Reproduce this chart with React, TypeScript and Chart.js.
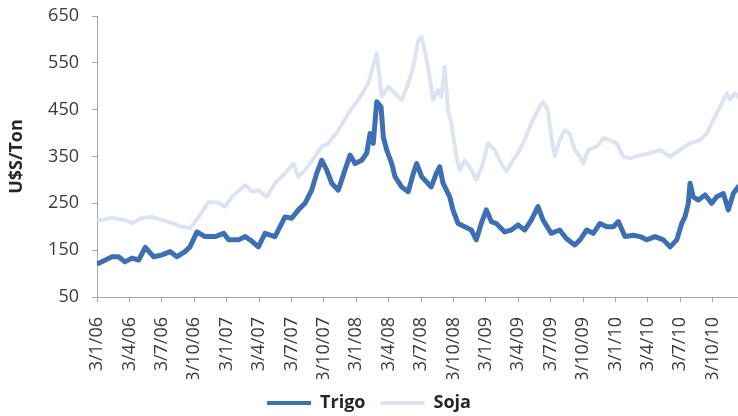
import React, { useEffect, useRef } from 'react';
import { Chart, registerables } from 'chart.js';

Chart.register(...registerables);

// x values are months elapsed since 3/1/06 (day/month/year)
const tickMonths = [0, 3, 6, 9, 12, 15, 18, 21, 24, 27, 30, 33, 36, 39, 42, 45, 48, 51, 54, 57];
const tickLabels = [
  '3/1/06', '3/4/06', '3/7/06', '3/10/06',
  '3/1/07', '3/4/07', '3/7/07', '3/10/07',
  '3/1/08', '3/4/08', '3/7/08', '3/10/08',
  '3/1/09', '3/4/09', '3/7/09', '3/10/09',
  '3/1/10', '3/4/10', '3/7/10', '3/10/10',
];

const yTicks = [50, 150, 250, 350, 450, 550, 650];

const trigoMonths = [
  0.16, 1.39, 2.0, 2.59, 3.24, 3.86, 4.47, 5.25, 6.02, 6.76, 7.41, 8.15, 8.61, 9.26, 10.0,
  10.93, 11.73, 12.19, 13.12, 13.73, 14.35, 14.94, 15.56, 16.48, 17.41, 18.03, 18.64, 19.26,
  19.88, 20.34, 20.81, 21.27, 21.73, 22.34, 22.96, 23.43, 23.89, 24.51, 24.97, 25.28, 25.58,
  25.9, 26.3, 26.51, 26.82, 27.29, 27.59, 28.21, 28.82, 29.29, 29.6, 30.06, 30.95, 31.42,
  31.73, 32.04, 32.66, 32.96, 33.43, 34.05, 34.66, 35.12, 35.58, 36.05, 36.51, 36.97, 37.75,
  38.36, 38.98, 39.6, 40.21, 40.83, 41.3, 42.06, 42.84, 43.45, 44.23, 44.72, 45.34, 45.95,
  46.57, 47.19, 47.81, 48.27, 48.89, 49.66, 50.28, 50.9, 51.67, 52.44, 53.06, 53.68, 54.14,
  54.44, 54.75, 54.91, 55.21, 55.68, 56.3, 56.92, 57.38, 57.99, 58.45, 58.92, 59.35,
];
const trigoValues = [
  122, 136, 136, 125, 133, 129, 156, 136, 140, 147, 136, 147, 157, 189, 179,
  179, 186, 172, 172, 179, 169, 157, 186, 179, 221, 218, 236, 250,
  278, 314, 342, 321, 293, 278, 321, 353, 335, 342, 357, 399, 378,
  467, 456, 392, 364, 335, 307, 285, 275, 314, 335, 307, 285, 314,
  328, 293, 264, 236, 207, 200, 193, 172, 207, 236, 211, 207, 189,
  193, 204, 193, 214, 243, 214, 186, 193, 175, 161, 172, 193, 186,
  207, 200, 200, 211, 179, 182, 179, 172, 179, 172, 157, 172, 207,
  221, 250, 293, 264, 257, 268, 250, 264, 271, 236, 271, 285,
];

const sojaMonths = [
  0.16, 1.39, 2.59, 3.24, 4.17, 5.09, 6.02, 6.94, 7.87, 8.61, 9.42, 10.34, 11.27, 11.85,
  12.5, 13.73, 14.35, 14.97, 15.71, 16.48, 17.41, 18.18, 18.64, 19.26, 20.19, 20.81, 21.42,
  22.34, 23.27, 24.19, 25.12, 25.9, 26.36, 26.97, 27.59, 28.21, 28.82, 29.29, 29.75, 30.06,
  30.19, 30.65, 31.11, 31.57, 31.88, 32.19, 32.5, 32.81, 33.27, 33.58, 34.05, 34.66, 35.12,
  35.74, 36.2, 36.82, 37.44, 37.9, 38.52, 39.14, 39.6, 40.21, 40.83, 41.3, 41.76, 42.06,
  42.38, 42.84, 43.31, 43.77, 44.23, 44.72, 45.03, 45.49, 46.27, 46.88, 47.5, 48.12, 48.73,
  49.35, 50.28, 51.2, 52.13, 53.06, 53.98, 54.91, 55.83, 56.45, 57.07, 57.68, 58.31, 58.61,
  59.07, 59.35,
];
const sojaValues = [
  214, 219, 214, 208, 219, 221, 214, 208, 200, 197, 221, 253, 251, 243,
  264, 289, 275, 278, 264, 293, 314, 335, 307, 321, 350, 371, 378,
  406, 442, 471, 506, 570, 478, 499, 485, 471, 506, 542, 599, 606,
  592, 542, 471, 492, 478, 542, 449, 421, 350, 321, 342, 321, 300,
  335, 378, 364, 335, 318, 342, 364, 385, 421, 449, 467, 449, 392,
  350, 385, 406, 399, 364, 350, 335, 364, 371, 389, 385, 378, 350,
  346, 353, 357, 364, 350, 364, 378, 385, 399, 428, 456, 485, 471,
  485, 478,
];

const FONT = "'Open Sans', 'DejaVu Sans', sans-serif";
const AXIS_COLOR = '#a6a6a6';
const TRIGO_COLOR = '#3d70b2';
const SOJA_COLOR = '#dce5ef';

export default function App() {
  const canvasRef = useRef<HTMLCanvasElement | null>(null);

  useEffect(() => {
    if (!canvasRef.current) return;
    const chart = new Chart(canvasRef.current, {
      type: 'line',
      data: {
        datasets: [
          {
            label: 'Trigo',
            data: trigoMonths.map((m, i) => ({ x: m, y: trigoValues[i] })),
            borderColor: TRIGO_COLOR,
            backgroundColor: TRIGO_COLOR,
            borderWidth: 5,
            pointRadius: 0,
            tension: 0,
            borderJoinStyle: 'round',
            borderCapStyle: 'round',
          },
          {
            label: 'Soja',
            data: sojaMonths.map((m, i) => ({ x: m, y: sojaValues[i] })),
            borderColor: SOJA_COLOR,
            backgroundColor: SOJA_COLOR,
            borderWidth: 4,
            pointRadius: 0,
            tension: 0,
            borderJoinStyle: 'round',
            borderCapStyle: 'round',
          },
        ],
      },
      options: {
        animation: false,
        responsive: true,
        maintainAspectRatio: false,
        layout: { padding: { top: 16, right: 0, left: 0, bottom: -6 } },
        plugins: {
          tooltip: { enabled: false },
          legend: {
            position: 'bottom',
            labels: {
              boxWidth: 44,
              boxHeight: 4,
              padding: 15,
              color: '#262626',
              font: { family: FONT, size: 18, weight: 'bold' },
              generateLabels: (c: any) =>
                Chart.defaults.plugins.legend.labels
                  .generateLabels(c)
                  .map((l: any) => ({ ...l, lineWidth: 0 })),
            },
          },
        },
        scales: {
          x: {
            type: 'linear',
            min: 0,
            max: 59.35,
            afterBuildTicks: (scale: any) => {
              scale.ticks = tickMonths.map((v) => ({ value: v }));
            },
            afterFit: (scale: any) => {
              scale.height = 82;
              scale.paddingLeft = 0;
              scale.paddingRight = 0;
            },
            ticks: {
              autoSkip: false,
              minRotation: 90,
              maxRotation: 90,
              padding: 15,
              color: '#3a3a3a',
              font: { family: FONT, size: 18 },
              callback: (_v: any, i: number) => tickLabels[i],
            },
            grid: {
              display: true,
              drawOnChartArea: false,
              drawTicks: true,
              tickLength: 5,
              color: AXIS_COLOR,
            },
            border: { display: true, color: AXIS_COLOR, width: 1 },
          },
          y: {
            type: 'linear',
            min: 50,
            max: 650,
            afterBuildTicks: (scale: any) => {
              scale.ticks = yTicks.map((v) => ({ value: v }));
            },
            afterFit: (scale: any) => {
              scale.width = 97;
              scale.paddingTop = 0;
              scale.paddingBottom = 0;
            },
            ticks: {
              padding: 13,
              color: '#3a3a3a',
              font: { family: FONT, size: 18 },
            },
            grid: {
              display: true,
              drawOnChartArea: false,
              drawTicks: true,
              tickLength: 5,
              color: AXIS_COLOR,
            },
            border: { display: true, color: AXIS_COLOR, width: 1 },
            title: {
              display: true,
              text: 'U$S/Ton',
              color: '#262626',
              font: { family: FONT, size: 18, weight: 'bold' },
              padding: { top: 6, bottom: 0 },
            },
          },
        },
      },
    });
    return () => chart.destroy();
  }, []);

  return (
    <div style={{ position: 'absolute', left: 0, top: 0, width: 738, height: 416, background: '#ffffff' }}>
      <canvas ref={canvasRef} />
    </div>
  );
}
